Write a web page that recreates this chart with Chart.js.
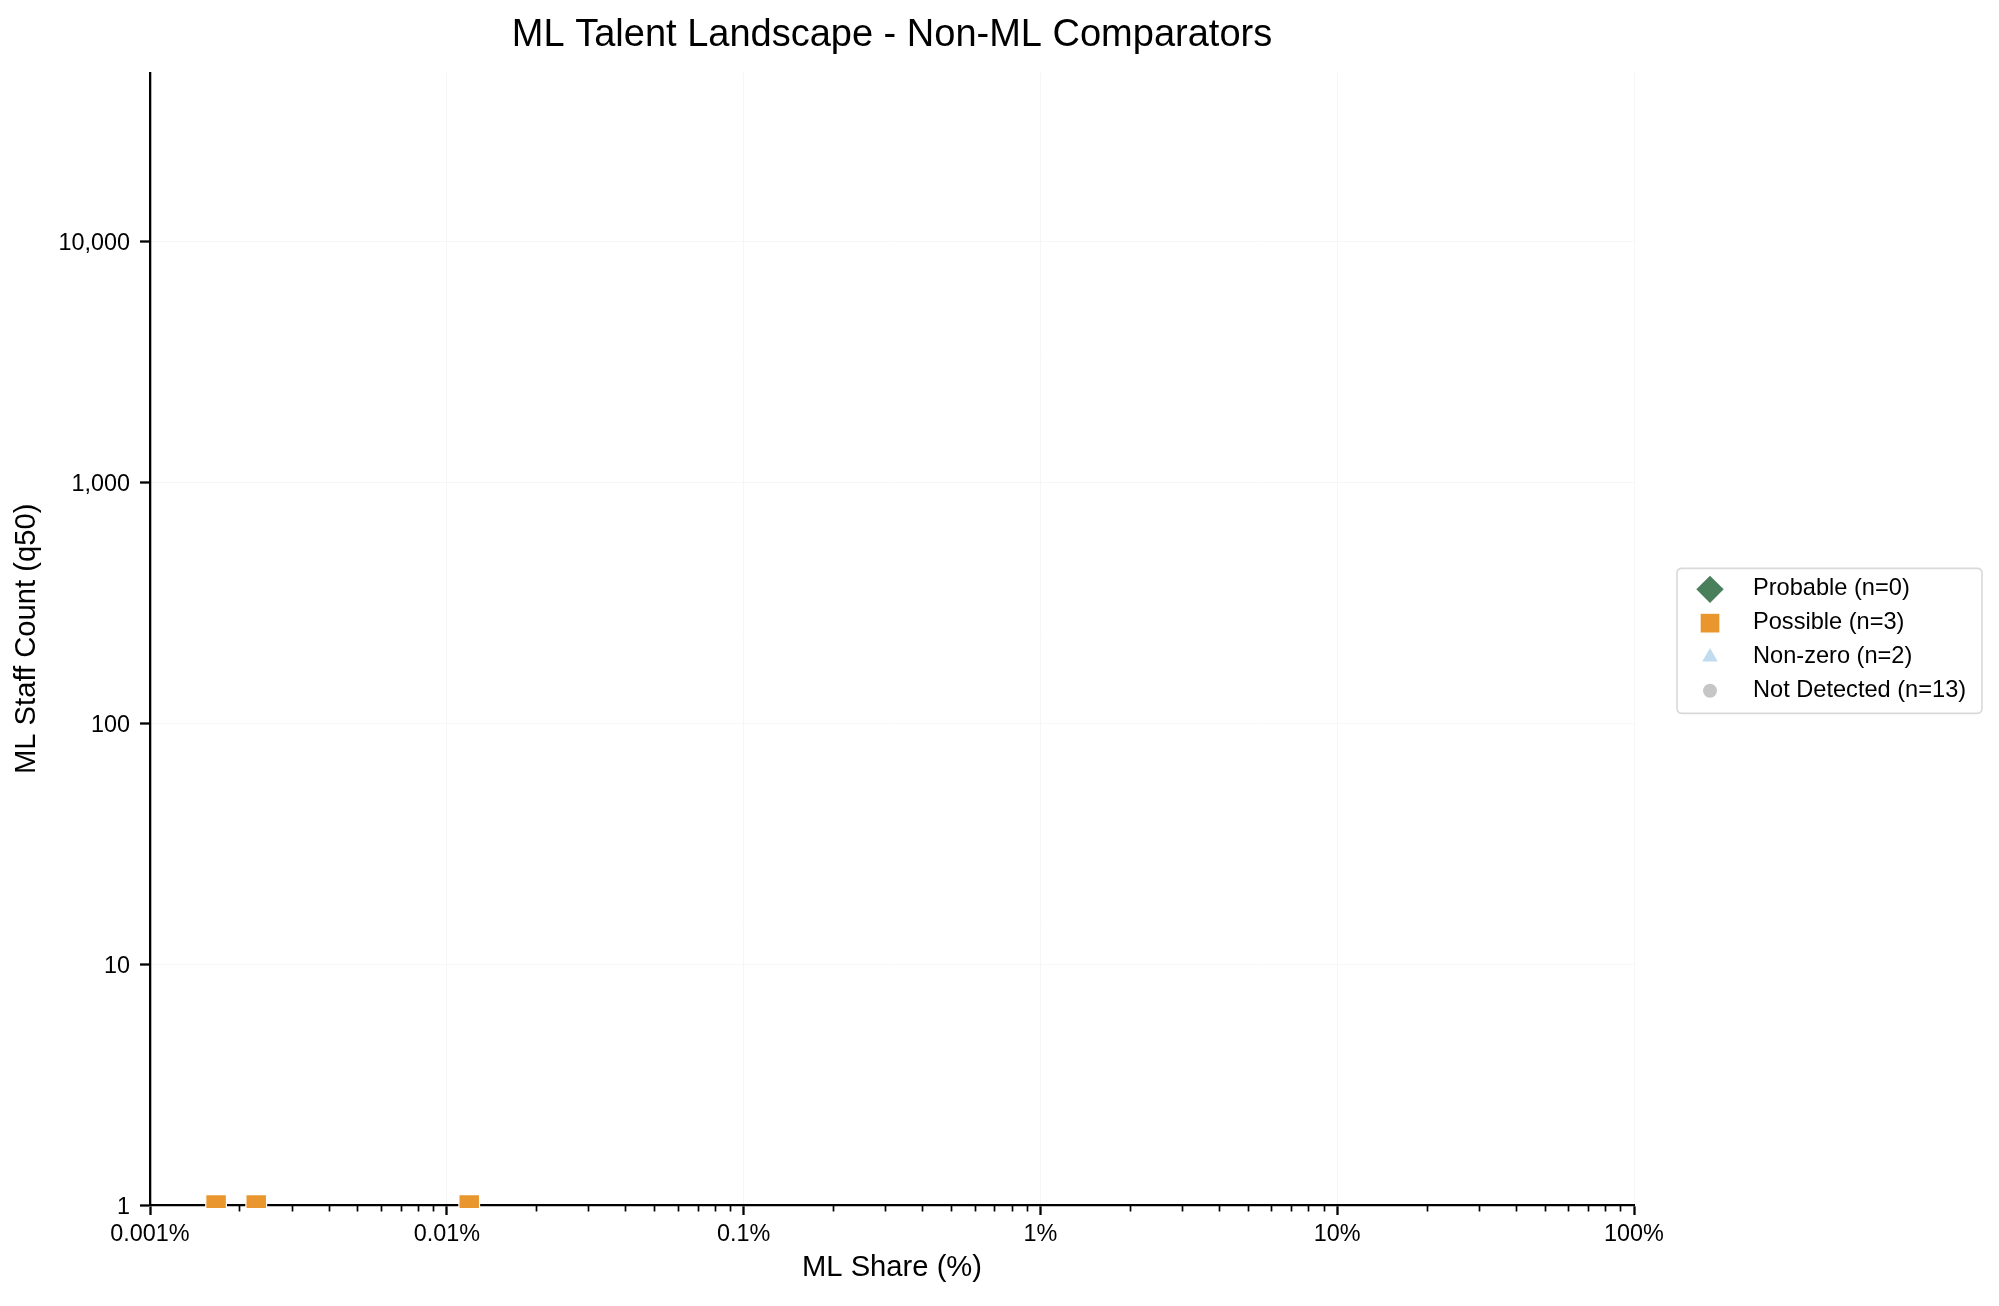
<!DOCTYPE html>
<html><head><meta charset="utf-8">
<script src="https://cdn.jsdelivr.net/npm/chart.js@4.4.1/dist/chart.umd.min.js"></script>
<style>html,body{margin:0;padding:0;background:#fff}canvas{display:block}</style>
</head><body>
<canvas id="c" width="1999" height="1306"></canvas>
<script>
// ---- data ----
const seriesNames = ['Probable', 'Possible', 'Non-zero', 'Not Detected'];
const seriesCounts = [0, 3, 2, 13];
const probableShare = [];
const probableStaff = [];
const possibleShare = [0.00167, 0.00228, 0.0119];   // ML share in %
const possibleStaff = [1, 1, 1];                    // ML staff count (q50)
const nonZeroShare = [];
const nonZeroStaff = [];
const notDetectedShare = [];
const notDetectedStaff = [];
const xTickValues = [0.001, 0.01, 0.1, 1, 10, 100];
const xTickLabels = ['0.001%', '0.01%', '0.1%', '1%', '10%', '100%'];
const yTickValues = [1, 10, 100, 1000, 10000];
const yTickLabels = ['1', '10', '100', '1,000', '10,000'];
const xRange = [0.001, 100];
const yRange = [1, 50000];

// ---- chart ----
const FONT = "'Liberation Sans', Arial, Helvetica, sans-serif";
Chart.defaults.font.family = FONT;
Chart.defaults.color = '#000';

function pts(xs, ys) { return xs.map((x, i) => ({x: x, y: ys[i]})); }
const label = i => seriesNames[i] + ' (n=' + seriesCounts[i] + ')';

const datasets = [
  {label: label(0), data: pts(probableShare, probableStaff), pointStyle: 'rectRot', backgroundColor: '#4A7F5C', pointRadius: 13, legendRadius: 13.7},
  {label: label(1), data: pts(possibleShare, possibleStaff), pointStyle: 'rect', backgroundColor: '#E9962F', pointRadius: 14.6, legendRadius: 13.2},
  {label: label(2), data: pts(nonZeroShare, nonZeroStaff), pointStyle: 'triangle', backgroundColor: '#C0DCEE', pointRadius: 9, legendRadius: 9},
  {label: label(3), data: pts(notDetectedShare, notDetectedStaff), pointStyle: 'circle', backgroundColor: '#C6C6C6', pointRadius: 7, legendRadius: 7}
].map(d => Object.assign(d, {borderColor: '#ffffff', pointBorderWidth: 1.2, borderWidth: 1.2, clip: {left: 0, top: 0, right: 0, bottom: 3}}));

function xTicks(scale) {
  const t = [];
  xTickValues.forEach((v, i) => {
    t.push({value: v, major: true});
    if (i < xTickValues.length - 1) for (let k = 2; k <= 9; k++) t.push({value: v * k, major: false});
  });
  scale.ticks = t;
}
function yTicks(scale) {
  scale.ticks = yTickValues.map(v => ({value: v, major: true}));
}

const minorTicks = {
  id: 'minorTicks',
  beforeDatasetsDraw(chart) {
    const ctx = chart.ctx, xs = chart.scales.x, a = chart.chartArea;
    ctx.save();
    ctx.strokeStyle = '#000';
    ctx.lineWidth = 1.7;
    xs.ticks.forEach(t => {
      if (t.major) return;
      const px = Math.round(xs.getPixelForValue(t.value)) + 0.5;
      ctx.beginPath();
      ctx.moveTo(px, a.bottom);
      ctx.lineTo(px, a.bottom + 6.5);
      ctx.stroke();
    });
    ctx.restore();
  }
};

const boxLegend = {
  id: 'boxLegend',
  afterDraw(chart) {
    const ctx = chart.ctx, a = chart.chartArea;
    const w = 305, h = 145;
    const left = a.right + 43;
    const top = (a.top + a.bottom) / 2 - h / 2 + 2;
    ctx.save();
    const r = 5;
    ctx.beginPath();
    ctx.moveTo(left + r, top);
    ctx.lineTo(left + w - r, top);
    ctx.quadraticCurveTo(left + w, top, left + w, top + r);
    ctx.lineTo(left + w, top + h - r);
    ctx.quadraticCurveTo(left + w, top + h, left + w - r, top + h);
    ctx.lineTo(left + r, top + h);
    ctx.quadraticCurveTo(left, top + h, left, top + h - r);
    ctx.lineTo(left, top + r);
    ctx.quadraticCurveTo(left, top, left + r, top);
    ctx.closePath();
    ctx.fillStyle = 'rgba(255,255,255,0.85)';
    ctx.fill();
    ctx.strokeStyle = '#d9d9d9';
    ctx.lineWidth = 1.6;
    ctx.stroke();
    chart.data.datasets.forEach((ds, i) => {
      const y = top + 21 + 33.8 * i;
      ctx.fillStyle = ds.backgroundColor;
      Chart.helpers.drawPoint(ctx, {pointStyle: ds.pointStyle, radius: ds.legendRadius, rotation: 0, borderWidth: 0}, left + 33, y);
      ctx.fillStyle = '#000';
      ctx.font = '23.6px ' + FONT;
      ctx.textBaseline = 'middle';
      ctx.textAlign = 'left';
      ctx.fillText(ds.label, left + 76, y - 0.5);
    });
    ctx.restore();
  }
};

const gridColor = c => (c.tick && c.tick.major) ? '#f6f6f6' : 'rgba(0,0,0,0)';
const tickColor = c => (c.tick && c.tick.major) ? '#000' : 'rgba(0,0,0,0)';

new Chart(document.getElementById('c'), {
  type: 'scatter',
  data: {datasets: datasets},
  plugins: [minorTicks, boxLegend],
  options: {
    responsive: false,
    animation: false,
    devicePixelRatio: 1,
    layout: {padding: {left: 0, right: 365, top: 0, bottom: 0}},
    plugins: {
      legend: {display: false},
      tooltip: {enabled: false},
      title: {
        display: true,
        text: 'ML Talent Landscape - Non-ML Comparators',
        fullSize: false,
        color: '#000',
        font: {size: 38, weight: 'normal', lineHeight: 1.2},
        padding: {top: 12.5, bottom: 14.6}
      }
    },
    scales: {
      x: {
        type: 'logarithmic',
        position: 'bottom',
        min: xRange[0],
        max: xRange[1],
        afterBuildTicks: xTicks,
        afterFit: s => { s.height = 101; },
        ticks: {
          autoSkip: false, maxRotation: 0, minRotation: 0, padding: 6,
          color: '#000', font: {size: 23.4},
          callback: (v, i, t) => t[i].major ? xTickLabels[xTickValues.indexOf(t[i].value)] : ''
        },
        grid: {color: gridColor, lineWidth: 1, tickColor: tickColor, tickWidth: 2.3, tickLength: 10, drawTicks: true},
        border: {display: true, color: '#000', width: 2.3},
        title: {display: true, text: 'ML Share (%)', color: '#000', font: {size: 29.2}, padding: {top: 0, bottom: 20.3}}
      },
      y: {
        type: 'logarithmic',
        position: 'left',
        min: yRange[0],
        max: yRange[1],
        afterBuildTicks: yTicks,
        afterFit: s => { s.width = 150; },
        ticks: {
          autoSkip: false, padding: 10, labelOffset: 2.5,
          color: '#000', font: {size: 23.4},
          callback: (v, i, t) => yTickLabels[yTickValues.indexOf(t[i].value)]
        },
        grid: {color: gridColor, lineWidth: 1, tickColor: tickColor, tickWidth: 2.3, tickLength: 10, drawTicks: true},
        border: {display: true, color: '#000', width: 2.3},
        title: {display: true, text: 'ML Staff Count (q50)', color: '#000', font: {size: 29.2}, padding: {top: 9.5, bottom: 0}}
      }
    }
  }
});
</script>
</body></html>
